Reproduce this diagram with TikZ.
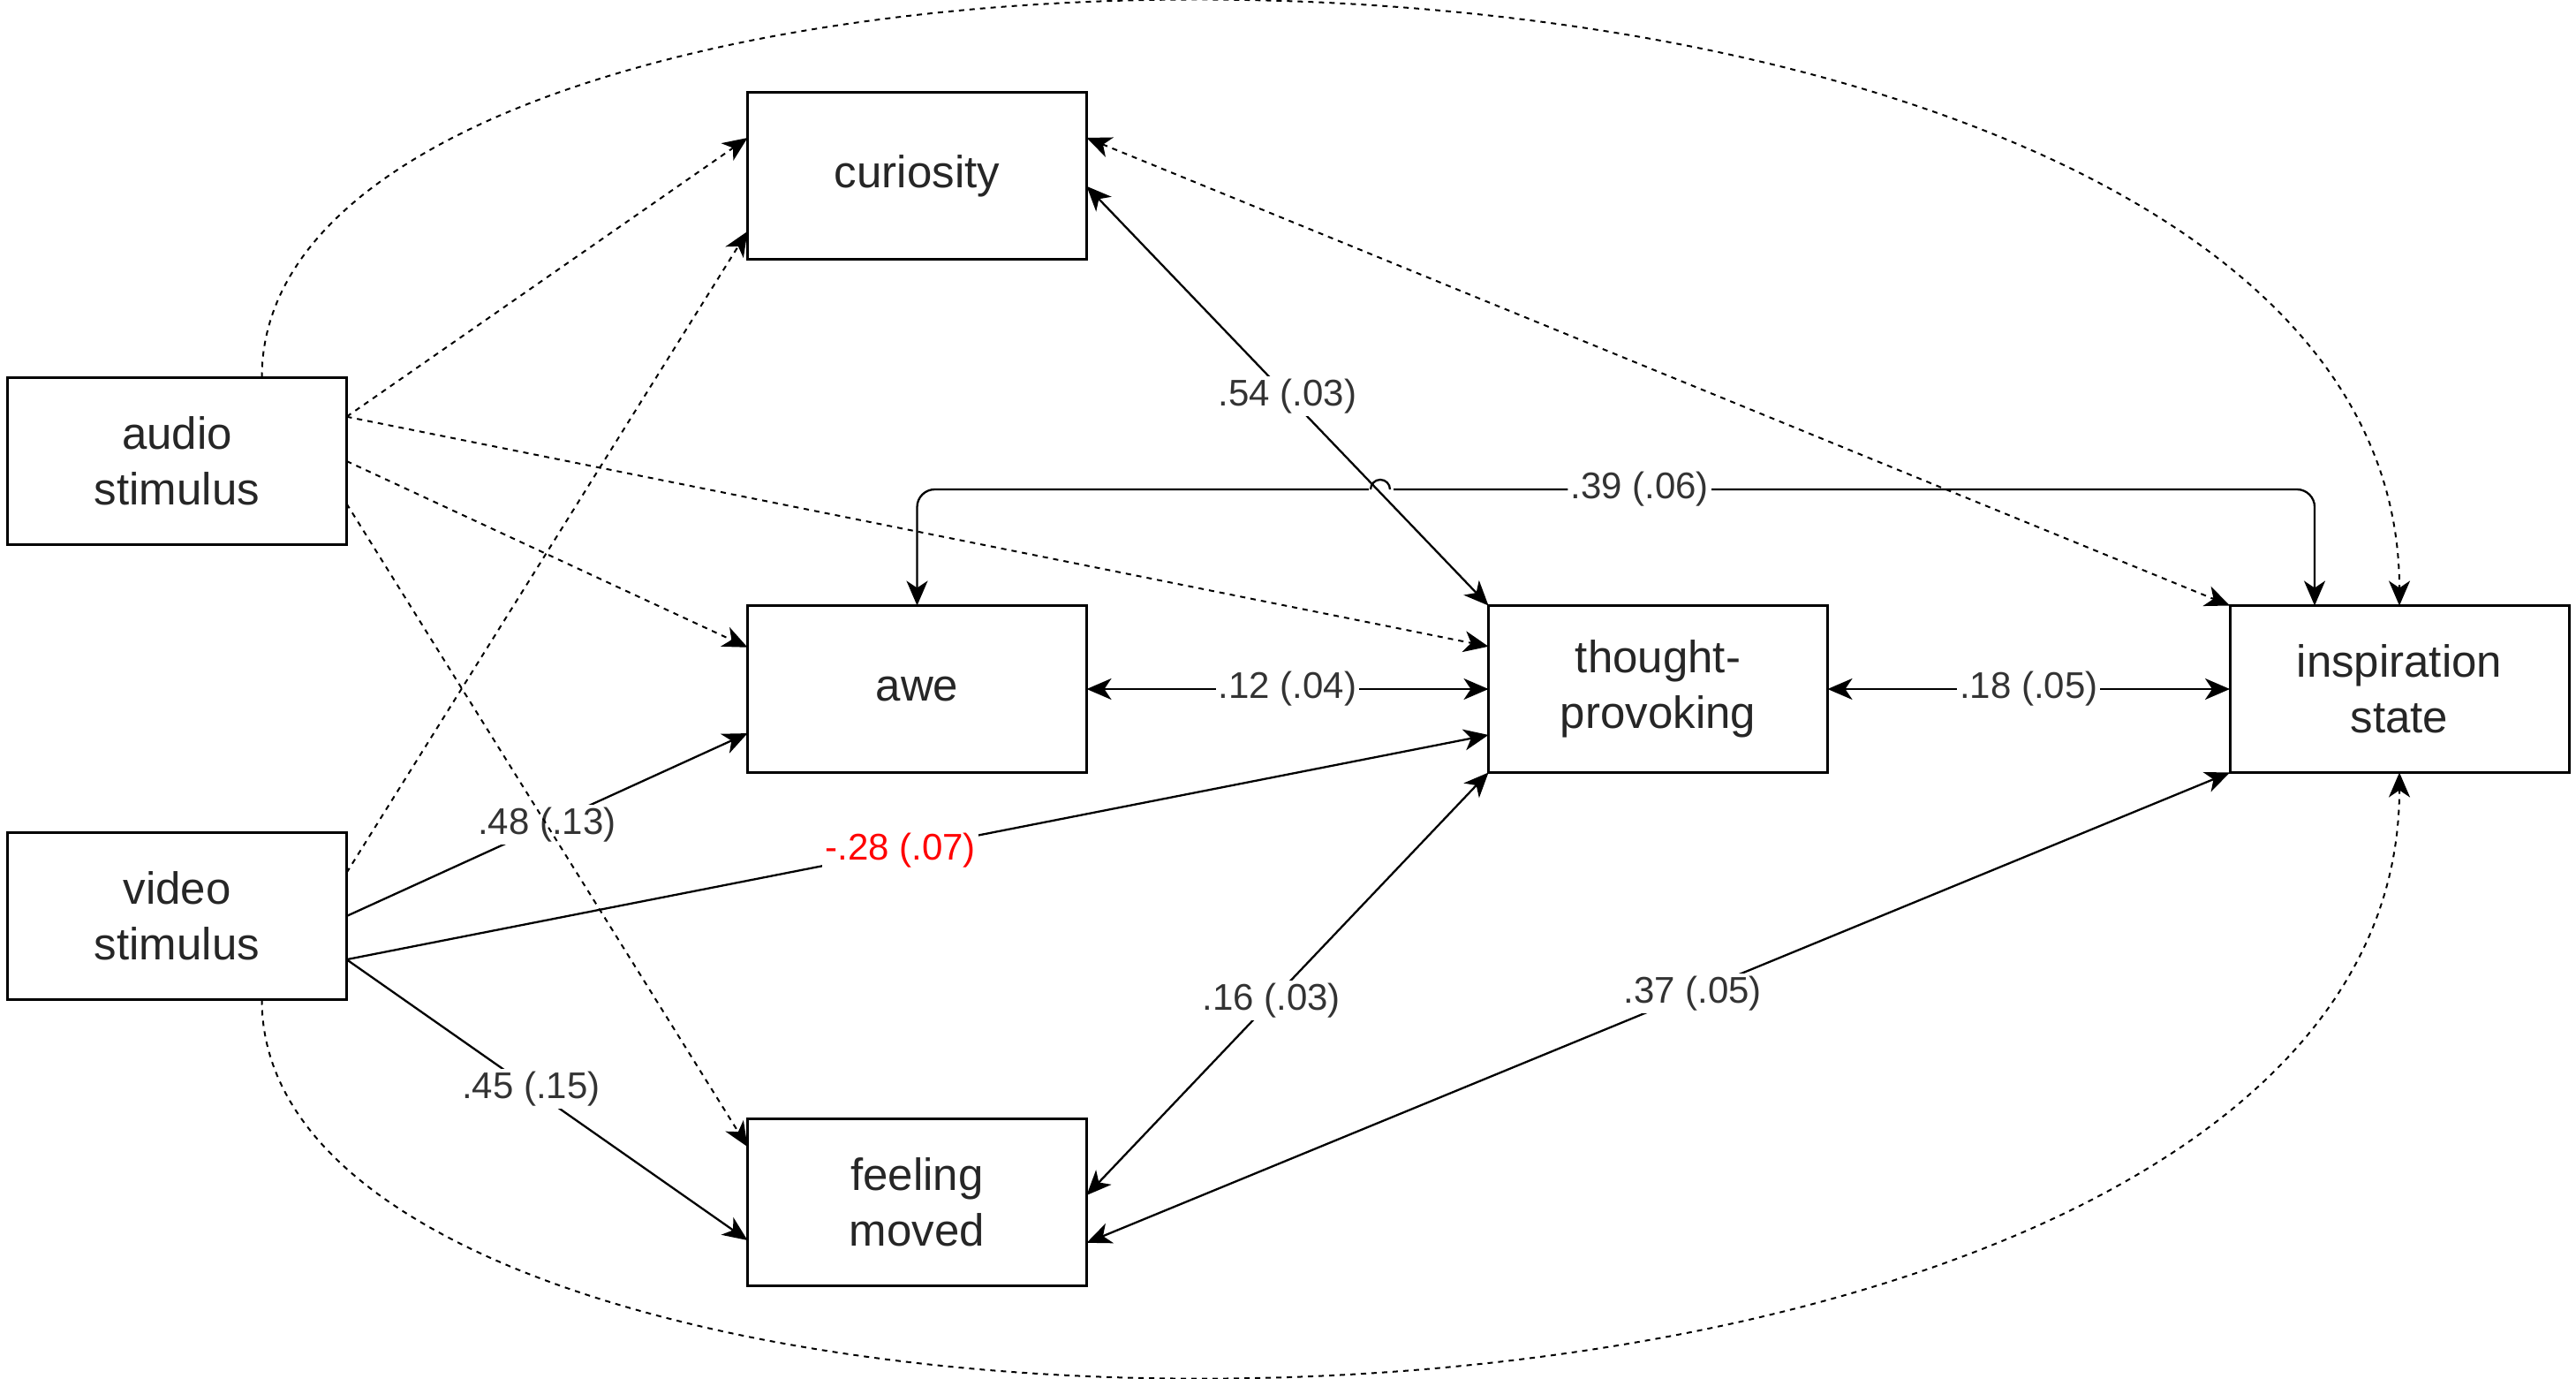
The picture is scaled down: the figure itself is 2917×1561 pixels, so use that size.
\documentclass[tikz,border=0pt]{standalone}
\usepackage{fontspec}
\setmainfont{Liberation Sans}
\usetikzlibrary{arrows.meta,calc}
\begin{document}
\begin{tikzpicture}[x=0.5pt,y=-0.5pt,
  >={Stealth[length=14pt,width=12pt,inset=4pt]},
  box/.style={draw=black,line width=1.5pt,minimum width=192pt,minimum height=94.5pt,
    inner sep=0pt,outer sep=0pt,align=center,text=black!85,
    font=\fontsize{25.5pt}{31.6pt}\selectfont},
  edge/.style={line width=1.15pt,draw=black},
  dsh/.style={line width=1pt,draw=black,dash pattern=on 3pt off 3pt},
  lbl/.style={fill=white,inner sep=1.5pt,text=black!80,
    font=\fontsize{21pt}{25pt}\selectfont}]
\useasboundingbox (0,0) rectangle (2917,1561);

% nodes
\node[box] (aud) at (200.5,522) {audio\\stimulus};
\node[box] (vid) at (200.5,1037) {video\\stimulus};
\node[box] (cur) at (1038.5,199.5) {curiosity};
\node[box] (awe) at (1038.5,780) {awe};
\node[box] (fee) at (1038.5,1360.5) {feeling\\moved};
\node[box] (tho) at (1877.5,780) {thought-\\provoking};
\node[box] (ins) at (2717,780) {inspiration\\state};

% attachment points
\coordinate (aR1) at ($(aud.north east)!0.234!(aud.south east)$);
\coordinate (aR2) at (aud.east);
\coordinate (aR3) at ($(aud.north east)!0.755!(aud.south east)$);
\coordinate (aT) at ($(aud.north west)!0.75!(aud.north east)$);
\coordinate (vR1) at ($(vid.north east)!0.24!(vid.south east)$);
\coordinate (vR2) at (vid.east);
\coordinate (vR3) at ($(vid.north east)!0.76!(vid.south east)$);
\coordinate (vB) at ($(vid.south west)!0.75!(vid.south east)$);
\coordinate (cL1) at ($(cur.north west)!0.27!(cur.south west)$);
\coordinate (cL2) at ($(cur.north west)!0.83!(cur.south west)$);
\coordinate (cR1) at ($(cur.north east)!0.27!(cur.south east)$);
\coordinate (cR2) at ($(cur.north east)!0.56!(cur.south east)$);
\coordinate (wL1) at ($(awe.north west)!0.25!(awe.south west)$);
\coordinate (wL2) at ($(awe.north west)!0.765!(awe.south west)$);
\coordinate (fL1) at ($(fee.north west)!0.17!(fee.south west)$);
\coordinate (fL2) at ($(fee.north west)!0.73!(fee.south west)$);
\coordinate (fR1) at ($(fee.north east)!0.46!(fee.south east)$);
\coordinate (fR2) at ($(fee.north east)!0.745!(fee.south east)$);
\coordinate (tL1) at ($(tho.north west)!0.245!(tho.south west)$);
\coordinate (tL3) at ($(tho.north west)!0.775!(tho.south west)$);
\coordinate (iT) at ($(ins.north west)!0.25!(ins.north east)$);
\coordinate (lev) at (0,554);
\coordinate (hopA) at (1552,554);

% solid labelled edges
\draw[edge,->] (vR2) -- node[lbl]{.48 (.13)} (wL2);
\draw[edge,->] (vR3) -- node[lbl,pos=0.485,text=red]{-.28 (.07)} (tL3);
\draw[edge,->] (vR3) -- node[lbl,pos=0.46]{.45 (.15)} (fL2);
\draw[edge,<->,rounded corners=10pt] (awe.north) -- (awe.north |- lev)
  -- node[lbl,pos=0.517]{.39 (.06)} (iT |- lev) -- (iT);
\fill[white] (1550,550) rectangle (1578,558);
\draw[edge] (hopA) arc[start angle=180,end angle=0,radius=5.5pt];
\draw[edge,<->] (cR2) -- node[lbl]{.54 (.03)} (tho.north west);
\draw[edge,<->] (awe.east) -- node[lbl]{.12 (.04)} (tho.west);
\draw[edge,<->] (tho.east) -- node[lbl]{.18 (.05)} (ins.west);
\draw[edge,<->] (tho.south west) -- node[lbl,pos=0.54]{.16 (.03)} (fR1);
\draw[edge,<->] (ins.south west) -- node[lbl,pos=0.47]{.37 (.05)} (fR2);

% dashed edges
\draw[dsh,->] (aR1) -- (cL1);
\draw[dsh,->] (aR1) -- (tL1);
\draw[dsh,->] (aR2) -- (wL1);
\draw[dsh,->] (aR3) -- (fL1);
\draw[dsh,->] (vR1) -- (cL2);
\draw[dsh,<->] (cR1) -- (ins.north west);
\draw[dsh,->] (aT) .. controls +(0,-606) and +(0,-863) .. (ins.north);
\draw[dsh,->] (vB) .. controls +(0,606) and +(0,865) .. (ins.south);
\end{tikzpicture}
\end{document}
